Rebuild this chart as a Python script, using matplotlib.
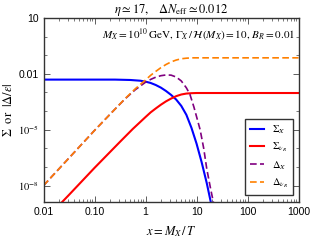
import numpy as np
import matplotlib
matplotlib.use("Agg")
import matplotlib.pyplot as plt
from matplotlib.ticker import LogLocator, FixedLocator, FixedFormatter, NullFormatter

plt.rcParams['mathtext.fontset'] = 'stix'
plt.rcParams['font.family'] = 'Liberation Sans'

# curves, as (log10 x, log10 y)
sigX_lx = [-2, -0.6, -0.3, -0.1, 0.0, 0.1, 0.2, 0.3, 0.4, 0.5, 0.6, 0.7, 0.8, 0.9, 1.0, 1.1, 1.2, 1.28, 1.35]
sigX_ly = [-2.31, -2.31, -2.33, -2.37, -2.42, -2.49, -2.60, -2.74, -2.92, -3.13, -3.38, -3.72, -4.20, -4.90, -5.75, -6.75, -7.87, -8.9, -9.8]

sigN_lx = [-1.7, -1.5, -1.0, -0.5, -0.25, 0.0, 0.1, 0.2, 0.3, 0.4, 0.5, 0.6, 0.7, 0.8, 0.9, 1.0, 3.0]
sigN_ly = [-9.07, -8.50, -7.05, -5.65, -4.96, -4.32, -4.07, -3.86, -3.66, -3.48, -3.33, -3.20, -3.11, -3.06, -3.04, -3.03, -3.03]

delX_lx = [-2.0, -1.5, -1.0, -0.6, -0.4, -0.2, 0.0, 0.1, 0.2, 0.3, 0.4, 0.5, 0.6, 0.7, 0.8, 0.87, 0.95, 1.0, 1.07, 1.14, 1.2, 1.27, 1.33, 1.4]
delX_ly = [-8.00, -6.52, -5.04, -3.90, -3.34, -2.85, -2.45, -2.30, -2.18, -2.10, -2.06, -2.07, -2.17, -2.38, -2.75, -3.10, -3.80, -4.30, -5.0, -6.0, -7.1, -8.1, -8.9, -10.0]

delN_lx = [-2.0, -1.5, -1.0, -0.6, -0.4, -0.2, 0.0, 0.1, 0.2, 0.3, 0.4, 0.5, 0.6, 0.7, 0.8, 0.9, 1.0, 3.0]
delN_ly = [-8.00, -6.52, -5.04, -3.90, -3.33, -2.80, -2.33, -2.08, -1.87, -1.67, -1.50, -1.36, -1.26, -1.19, -1.16, -1.14, -1.14, -1.14]

xtick_vals = [0.01, 0.1, 1, 10, 100, 1000]
xtick_labels = ["0.01", "0.10", "1", "10", "100", "1000"]
ytick_vals = [1e-8, 1e-5, 1e-2, 10]
ytick_labels = [r"$10^{-8}$", r"$10^{-5}$", "0.01", "10"]

fig = plt.figure(figsize=(3.11, 2.40), dpi=100)
ax = fig.add_axes([0.14, 0.158, 0.82, 0.767])

def pw(a):
    return 10.0 ** np.array(a)

ax.plot(pw(sigX_lx), pw(sigX_ly), color="#0000ff", lw=1.5, label=r"$\Sigma_X$")
ax.plot(pw(sigN_lx), pw(sigN_ly), color="#ff0000", lw=1.5, label=r"$\Sigma_{\nu_R}$")
ax.plot(pw(delX_lx), pw(delX_ly), color="#800080", lw=1.2, ls=(0, (4, 2)), label=r"$\Delta_X$")
ax.plot(pw(delN_lx), pw(delN_ly), color="#ff8000", lw=1.2, ls=(0, (4, 2)), label=r"$\Delta_{\nu_R}$")

ax.set_xscale("log")
ax.set_yscale("log")
ax.set_xlim(0.01, 1000)
ax.set_ylim(10 ** -8.89, 10)

ax.xaxis.set_major_locator(FixedLocator(xtick_vals))
ax.xaxis.set_major_formatter(FixedFormatter(xtick_labels))
ax.xaxis.set_minor_locator(LogLocator(base=10, subs=np.arange(2, 10)))
ax.xaxis.set_minor_formatter(NullFormatter())
ax.yaxis.set_major_locator(FixedLocator(ytick_vals))
ax.yaxis.set_major_formatter(FixedFormatter(ytick_labels))
ax.yaxis.set_minor_locator(FixedLocator([10.0 ** k for k in range(-9, 2)]))
ax.yaxis.set_minor_formatter(NullFormatter())

ax.tick_params(which="both", direction="in", top=True, right=True, labelsize=7.5, colors="#444444", labelcolor="black")
ax.tick_params(which="major", length=4, width=0.6)
ax.tick_params(which="minor", length=2, width=0.5)
for s in ax.spines.values():
    s.set_linewidth(1.0)
    s.set_color("#333333")

ax.set_xlabel(r"$x = M_X\,/\,T$", fontsize=9, labelpad=5)
ax.set_ylabel(r"$\Sigma\ \ \mathrm{or}\ \ |\Delta/\epsilon|$", fontsize=9, labelpad=2)
ax.set_title(r"$\eta \simeq 17,\ \ \ \Delta N_{\rm eff} \simeq 0.012$", fontsize=9, pad=3)
ax.text(0.985, 0.955, r"$M_X = 10^{10}\,\mathrm{GeV},\, \Gamma_X\,/\,\mathcal{H}(M_X) = 10,\, B_R = 0.01$",
        transform=ax.transAxes, ha="right", va="top", fontsize=8)

leg = ax.legend(loc="lower right", bbox_to_anchor=(0.978, 0.038), fontsize=7.5, handlelength=1.4,
                fancybox=False, framealpha=1, edgecolor="#333333", borderpad=0.5, labelspacing=0.45,
                handletextpad=0.7, borderaxespad=0)
leg.get_frame().set_linewidth(1.0)

fig.savefig("out.png", dpi=100)
